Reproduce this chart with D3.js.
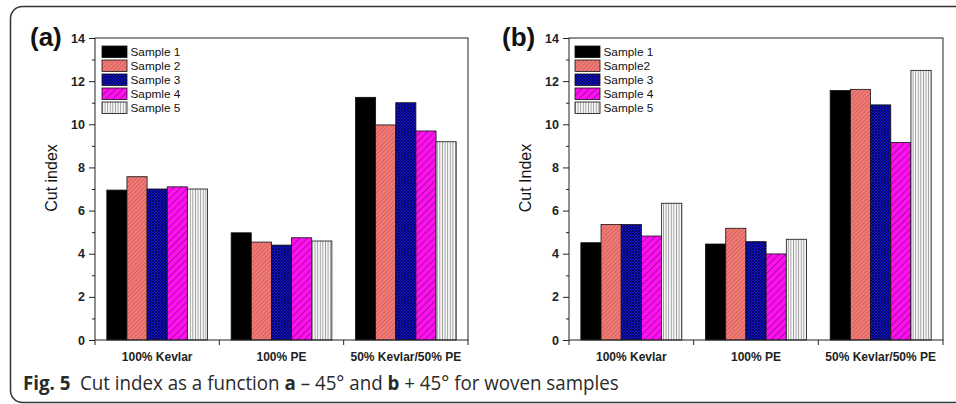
<!DOCTYPE html>
<html>
<head>
<meta charset="utf-8">
<script src="https://cdn.jsdelivr.net/npm/d3@7"></script>
<style>
  body { margin: 0; background: #fff; }
  svg { display: block; }
  .plot text { font-family: "Liberation Sans", Arial, sans-serif; }
  .caption { font-family: "Open Sans", sans-serif; }
</style>
</head>
<body>
<svg width="956" height="404"></svg>
<script>
// categories and values
var categories = ["100% Kevlar", "100% PE", "50% Kevlar/50% PE"];
var yTicks = [0, 2, 4, 6, 8, 10, 12, 14];

var samplesA = ["Sample 1", "Sample 2", "Sample 3", "Sapmle 4", "Sample 5"];
var samplesB = ["Sample 1", "Sample2", "Sample 3", "Sample 4", "Sample 5"];

// panel (a): one array per sample, over the three categories
var a1 = [6.95, 4.97, 11.25];
var a2 = [7.57, 4.54, 9.97];
var a3 = [7.0, 4.4, 11.0];
var a4 = [7.1, 4.74, 9.69];
var a5 = [7.0, 4.59, 9.19];

// panel (b)
var b1 = [4.51, 4.45, 11.57];
var b2 = [5.35, 5.18, 11.62];
var b3 = [5.35, 4.56, 10.9];
var b4 = [4.82, 3.99, 9.16];
var b5 = [6.34, 4.67, 12.5];

var fills = ["#000", "url(#hatchSalmon)", "url(#crossBlue)", "url(#hatchMag)", "url(#vertGrey)"];

var svg = d3.select("svg");

// patterns
var defs = svg.append("defs");
function pat(id, w, bg, rot) {
  var p = defs.append("pattern").attr("id", id)
      .attr("patternUnits", "userSpaceOnUse")
      .attr("width", w).attr("height", w);
  if (rot) p.attr("patternTransform", "rotate(" + rot + ")");
  p.append("rect").attr("width", w).attr("height", w).attr("fill", bg);
  return p;
}
pat("hatchSalmon", 3, "#f27b76", 45)
  .append("line").attr("x1", 0).attr("y1", 0).attr("x2", 0).attr("y2", 3)
  .attr("stroke", "#b34a48").attr("stroke-width", 1);
var cb = pat("crossBlue", 3, "#1414c8", 0);
cb.append("path").attr("d", "M0,0L3,3M3,0L0,3")
  .attr("stroke", "#000050").attr("stroke-width", 0.8);
pat("hatchMag", 5, "#ff10f0", 45)
  .append("line").attr("x1", 0).attr("y1", 0).attr("x2", 0).attr("y2", 5)
  .attr("stroke", "#3a0838").attr("stroke-width", 0.9);
pat("vertGrey", 2.6, "#fafafa", 0)
  .append("line").attr("x1", 0.5).attr("y1", 0).attr("x2", 0.5).attr("y2", 2.6)
  .attr("stroke", "#8a8a8a").attr("stroke-width", 0.8);

// outer rounded frame
svg.append("rect")
  .attr("x", 10.5).attr("y", 6.5)
  .attr("width", 1000).attr("height", 396)
  .attr("rx", 12).attr("ry", 12)
  .attr("fill", "none").attr("stroke", "#333").attr("stroke-width", 1.5);

function panel(opt) {
  var g = svg.append("g").attr("class", "plot");
  var left = opt.left, right = opt.right, top = 38, bottom = 340;

  var y = d3.scaleLinear().domain([0, 14]).range([bottom, top]);
  var x0 = d3.scaleBand().domain(categories).range([left, right])
      .paddingInner(0.19).paddingOuter(0.095);
  var x1 = d3.scaleBand().domain(d3.range(5)).range([0, x0.bandwidth()]);

  // bars
  opt.series.forEach(function(vals, si) {
    g.selectAll(null)
      .data(vals)
      .enter().append("rect")
        .attr("x", function(d, i) { return x0(categories[i]) + x1(si); })
        .attr("y", function(d) { return y(d); })
        .attr("width", x1.bandwidth())
        .attr("height", function(d) { return bottom - y(d); })
        .attr("fill", fills[si])
        .attr("stroke", "#111").attr("stroke-width", 0.8);
  });

  // plot frame
  g.append("rect")
    .attr("x", left).attr("y", top)
    .attr("width", right - left).attr("height", bottom - top)
    .attr("fill", "none").attr("stroke", "#222").attr("stroke-width", 1);

  // y axis
  var yAxis = g.append("g").attr("transform", "translate(" + left + ",0)")
    .call(d3.axisLeft(y).tickValues(yTicks).tickSize(6).tickPadding(4).tickFormat(d3.format("d")));
  yAxis.select(".domain").remove();
  yAxis.selectAll("text").attr("font-size", 12.5).attr("font-weight", "bold").attr("fill", "#222");
  yAxis.selectAll("line").attr("stroke", "#222");
  g.append("g").attr("transform", "translate(" + left + ",0)")
    .call(d3.axisLeft(y).tickValues(d3.range(1, 14, 2)).tickSize(3).tickFormat(""))
    .call(function(s) { s.select(".domain").remove(); s.selectAll("line").attr("stroke", "#222"); });

  // x axis: ticks at category boundaries
  var step = x0.step();
  var bounds = [left].concat(categories.map(function(c) { return x0(c) + x0.bandwidth() + step * 0.095; }));
  g.selectAll(null).data(bounds).enter().append("line")
    .attr("x1", function(d) { return d; }).attr("x2", function(d) { return d; })
    .attr("y1", bottom).attr("y2", bottom + 5)
    .attr("stroke", "#222");
  g.selectAll(null).data(categories).enter().append("text")
    .attr("x", function(c) { return x0(c) + x0.bandwidth() / 2; })
    .attr("y", 361)
    .attr("text-anchor", "middle")
    .attr("font-size", 12).attr("font-weight", "bold").attr("fill", "#222")
    .text(function(c) { return c; });

  // axis title
  g.append("text")
    .attr("transform", "translate(" + opt.titleX + ",178) rotate(-90)")
    .attr("text-anchor", "middle")
    .attr("font-size", 16).attr("fill", "#111")
    .text(opt.title);

  // panel label
  g.append("text")
    .attr("x", opt.labelX).attr("y", 46)
    .attr("font-size", 26).attr("font-weight", "bold").attr("fill", "#111")
    .text(opt.label);

  // legend
  var lg = g.append("g").attr("transform", "translate(" + opt.legX + ",46)");
  var item = lg.selectAll("g").data(opt.names).enter().append("g")
    .attr("transform", function(d, i) { return "translate(0," + i * 14 + ")"; });
  item.append("rect")
    .attr("width", 25).attr("height", 11.5)
    .attr("fill", function(d, i) { return fills[i]; })
    .attr("stroke", "#111").attr("stroke-width", 0.8);
  item.append("text")
    .attr("x", 28.5).attr("y", 10.2)
    .attr("font-size", 11.8).attr("fill", "#111")
    .text(function(d) { return d; });
}

panel({ left: 95, right: 468, series: [a1, a2, a3, a4, a5], names: samplesA,
        title: "Cut index", titleX: 57, label: "(a)", labelX: 30, legX: 102 });
panel({ left: 569, right: 943, series: [b1, b2, b3, b4, b5], names: samplesB,
        title: "Cut Index", titleX: 531, label: "(b)", labelX: 502, legX: 575 });

// caption: narrow the font horizontally to fit the measured width
var capG = svg.append("g");
var cap = capG.append("text").attr("class", "caption")
  .attr("x", 0).attr("y", 0)
  .attr("font-size", 20).attr("fill", "#2a2a2a");
cap.append("tspan").attr("font-weight", "bold").text("Fig. 5");
cap.append("tspan").text("\u2002Cut index as a function ");
cap.append("tspan").attr("font-weight", "bold").text("a");
cap.append("tspan").text(" \u2013 45\u00b0 and ");
cap.append("tspan").attr("font-weight", "bold").text("b");
cap.append("tspan").text(" + 45\u00b0 for woven samples");
var capW = cap.node().getComputedTextLength();
capG.attr("transform", "translate(23,390) scale(" + (596 / capW) + ",1)");
</script>
</body>
</html>
